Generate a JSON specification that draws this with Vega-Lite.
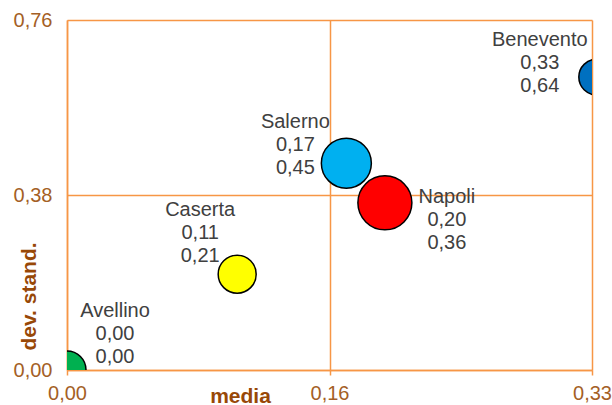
{
  "$schema": "https://vega.github.io/schema/vega-lite/v6.json",
  "autosize": "none",
  "width": 525,
  "height": 350,
  "padding": {"left": 67, "top": 20, "right": 20, "bottom": 35},
  "background": "white",
  "config": {
    "view": {"stroke": null},
    "locale": {"number": {"decimal": ",", "thousands": ".", "grouping": [3], "currency": ["", " €"]}},
    "font": "Liberation Sans"
  },
  "data": {
    "values": [
      {"provincia": "Avellino", "media": 0.0, "dev": 0.0, "dimensione": 361},
      {"provincia": "Caserta", "media": 0.106, "dev": 0.208, "dimensione": 361},
      {"provincia": "Salerno", "media": 0.174, "dev": 0.449, "dimensione": 625},
      {"provincia": "Napoli", "media": 0.198, "dev": 0.363, "dimensione": 729},
      {"provincia": "Benevento", "media": 0.33, "dev": 0.636, "dimensione": 324}
    ]
  },
  "transform": [
    {"calculate": "datum.provincia + '\\n' + replace(format(datum.media, '.2f'), '.', ',') + '\\n' + replace(format(datum.dev, '.2f'), '.', ',')", "as": "etichetta"}
  ],
  "encoding": {
    "x": {
      "field": "media", "type": "quantitative",
      "scale": {"domain": [0, 0.327], "nice": false, "zero": false},
      "axis": {
        "title": "media", "values": [0, 0.1635, 0.327], "format": ".2f",
        "grid": true, "gridColor": "#F79646", "gridOpacity": 1, "gridWidth": 1.5,
        "domainColor": "#F79646", "domainWidth": 1.5,
        "ticks": true, "tickColor": "#F79646", "tickSize": 5, "tickWidth": 1.5,
        "labelColor": "#A45F26", "labelFont": "Liberation Sans", "labelFontSize": 20, "labelPadding": 8,
        "labelFlush": false,
        "titleColor": "#984807", "titleFont": "Liberation Sans", "titleFontSize": 21, "titleFontWeight": "bold",
        "titleX": 173, "titleY": 15, "titleBaseline": "top", "titleAlign": "center"
      }
    },
    "y": {
      "field": "dev", "type": "quantitative",
      "scale": {"domain": [0, 0.76], "nice": false, "zero": false},
      "axis": {
        "title": "dev. stand.", "values": [0, 0.38, 0.76], "format": ".2f",
        "grid": true, "gridColor": "#F79646", "gridOpacity": 1, "gridWidth": 1.5,
        "domainColor": "#F79646", "domainWidth": 1.5,
        "ticks": false, "labelPadding": 15,
        "labelColor": "#A45F26", "labelFont": "Liberation Sans", "labelFontSize": 20,
        "labelFlush": false,
        "titleColor": "#984807", "titleFont": "Liberation Sans", "titleFontSize": 21, "titleFontWeight": "bold",
        "titleX": -32, "titleY": 276, "titleAngle": -90, "titleBaseline": "alphabetic", "titleAlign": "center"
      }
    }
  },
  "layer": [
    {
      "mark": {"type": "point", "shape": "circle", "filled": true, "opacity": 1, "stroke": "black", "strokeWidth": 1.5, "clip": true},
      "encoding": {
        "size": {"field": "dimensione", "type": "quantitative", "scale": {"type": "linear", "domain": [0, 1000], "range": [0, 4000]}, "legend": null},
        "color": {"field": "provincia", "type": "nominal", "legend": null,
          "scale": {"domain": ["Avellino", "Caserta", "Salerno", "Napoli", "Benevento"], "range": ["#00B050", "#FFFF00", "#00B0F0", "#FF0000", "#0070C0"]}}
      }
    },
    {
      "transform": [{"filter": "datum.provincia === 'Avellino'"}],
      "mark": {"type": "text", "align": "center", "baseline": "middle", "lineBreak": "\n", "lineHeight": 23, "fontSize": 20, "font": "Liberation Sans", "color": "#404040", "dx": 48, "dy": -59},
      "encoding": {"text": {"field": "etichetta"}}
    },
    {
      "transform": [{"filter": "datum.provincia === 'Caserta'"}],
      "mark": {"type": "text", "align": "center", "baseline": "middle", "lineBreak": "\n", "lineHeight": 23, "fontSize": 20, "font": "Liberation Sans", "color": "#404040", "dx": -37, "dy": -64},
      "encoding": {"text": {"field": "etichetta"}}
    },
    {
      "transform": [{"filter": "datum.provincia === 'Salerno'"}],
      "mark": {"type": "text", "align": "center", "baseline": "middle", "lineBreak": "\n", "lineHeight": 23, "fontSize": 20, "font": "Liberation Sans", "color": "#404040", "dx": -51, "dy": -41},
      "encoding": {"text": {"field": "etichetta"}}
    },
    {
      "transform": [{"filter": "datum.provincia === 'Napoli'"}],
      "mark": {"type": "text", "align": "center", "baseline": "middle", "lineBreak": "\n", "lineHeight": 23, "fontSize": 20, "font": "Liberation Sans", "color": "#404040", "dx": 62, "dy": -6},
      "encoding": {"text": {"field": "etichetta"}}
    },
    {
      "transform": [{"filter": "datum.provincia === 'Benevento'"}],
      "mark": {"type": "text", "align": "center", "baseline": "middle", "lineBreak": "\n", "lineHeight": 23, "fontSize": 20, "font": "Liberation Sans", "color": "#404040", "dx": -57, "dy": -37},
      "encoding": {"text": {"field": "etichetta"}}
    }
  ]
}
